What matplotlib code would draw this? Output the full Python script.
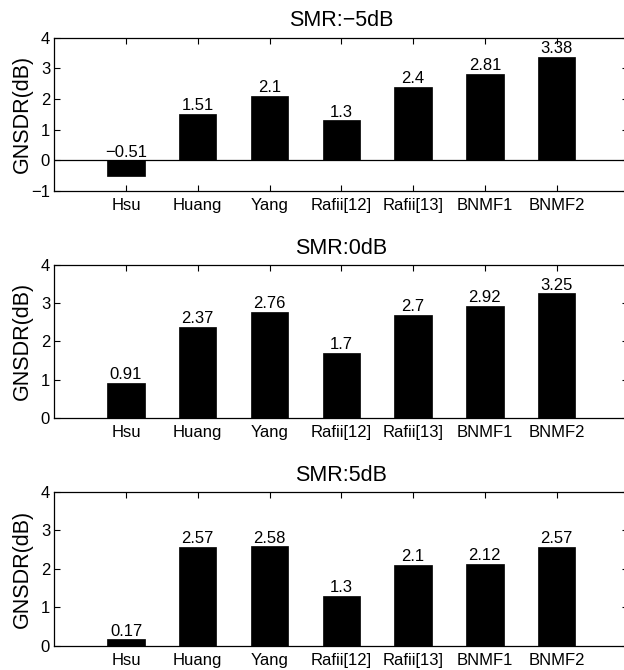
"""
GNSDR of the separation methods at three SMR levels, MATLAB-style bar panels.
"""

import matplotlib

matplotlib.use("Agg")
import matplotlib.pyplot as plt
import numpy as np

methods = ["Hsu", "Huang", "Yang", "Rafii[12]", "Rafii[13]", "BNMF1", "BNMF2"]
titles = ["SMR:\u22125dB", "SMR:0dB", "SMR:5dB"]

gnsdr_m5 = [-0.51, 1.51, 2.1, 1.3, 2.4, 2.81, 3.38]
gnsdr_0 = [0.91, 2.37, 2.76, 1.7, 2.7, 2.92, 3.25]
gnsdr_p5 = [0.17, 2.57, 2.58, 1.3, 2.1, 2.12, 2.57]

value_labels_m5 = ["\u22120.51", "1.51", "2.1", "1.3", "2.4", "2.81", "3.38"]
value_labels_0 = ["0.91", "2.37", "2.76", "1.7", "2.7", "2.92", "3.25"]
value_labels_p5 = ["0.17", "2.57", "2.58", "1.3", "2.1", "2.12", "2.57"]

y_limits = [(-1, 4), (0, 4), (0, 4)]


def main() -> None:
    plt.rcParams["font.family"] = ["Liberation Sans", "DejaVu Sans"]
    plt.rcParams["axes.unicode_minus"] = True

    fig = plt.figure(figsize=(6.24, 6.70), dpi=100)

    boxes = [
        (0.087, 0.715, 0.92, 0.229),
        (0.087, 0.376, 0.92, 0.229),
        (0.087, 0.036, 0.92, 0.230),
    ]
    series = [gnsdr_m5, gnsdr_0, gnsdr_p5]
    labels = [value_labels_m5, value_labels_0, value_labels_p5]

    x = np.arange(1, len(methods) + 1)

    for box, values, texts, title, ylim in zip(boxes, series, labels, titles, y_limits):
        ax = fig.add_axes(box)
        ax.bar(x, values, width=0.52, color="black", edgecolor="black", linewidth=0.5)

        # value labels sit on top of the bar (or on the baseline for negatives)
        for xi, v, t in zip(x, values, texts):
            ax.text(xi, max(v, 0) + 0.02, t, ha="center", va="bottom", fontsize=12)

        if ylim[0] < 0:
            ax.axhline(0, color="black", linewidth=0.9)

        ax.set_xlim(0, 8)
        ax.set_ylim(*ylim)
        ax.set_xticks(x)
        ax.set_xticklabels(methods, fontsize=12)
        ax.set_yticks(np.arange(ylim[0], ylim[1] + 1))
        ax.tick_params(
            axis="both",
            direction="in",
            top=True,
            right=True,
            length=4,
            width=0.8,
            labelsize=12,
            pad=3,
        )
        ax.tick_params(axis="x", pad=5)
        for spine in ax.spines.values():
            spine.set_linewidth(0.9)

        ax.set_title(title, fontsize=15.5, pad=8)
        ax.set_ylabel("GNSDR(dB)", fontsize=15.5)
        ax.yaxis.set_label_coords(-0.037, 0.5)

    fig.savefig("out.png", dpi=100)


if __name__ == "__main__":
    main()
